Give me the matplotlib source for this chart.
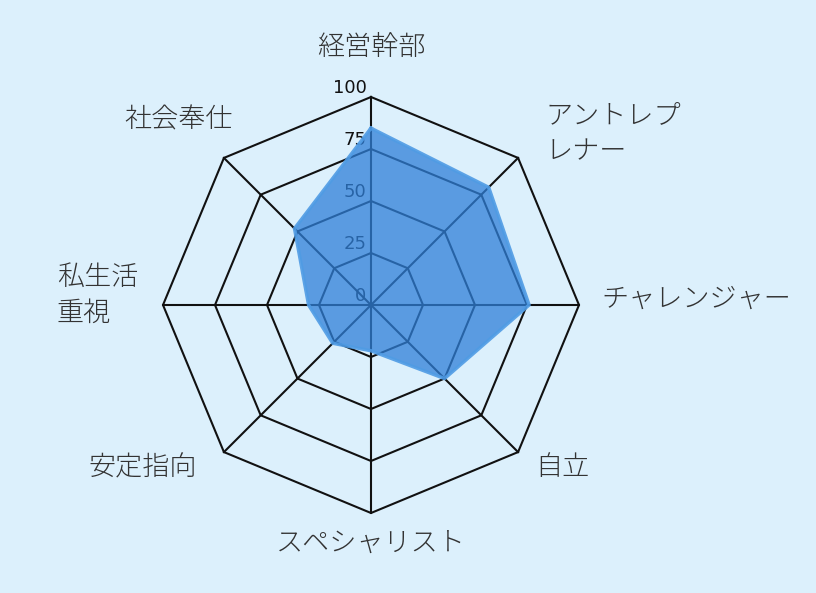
import numpy as np
import matplotlib
matplotlib.use("Agg")
import matplotlib.pyplot as plt

plt.rcParams['font.family'] = ['Noto Sans CJK JP', 'DejaVu Sans']

categories = ['経営幹部', 'アントレプ\nレナー', 'チャレンジャー', '自立',
              'スペシャリスト', '安定指向', '私生活\n重視', '社会奉仕']
values = [85, 80, 76, 50, 22, 26, 30, 52]
ticks = [0, 25, 50, 75, 100]
tick_labels = ['0', '25', '50', '75', '100']

W, H = 816, 593
cx, cy, R = 371, 305, 208
bg = '#dcf0fc'

fig = plt.figure(figsize=(W / 100, H / 100), dpi=100, facecolor=bg)
ax = fig.add_axes([0, 0, 1, 1])
ax.set_facecolor(bg)
ax.set_xlim(-cx / R, (W - cx) / R)
ax.set_ylim(-(H - cy) / R, cy / R)
ax.set_aspect('equal')
ax.axis('off')

n = len(categories)
ang = np.pi / 2 - np.arange(n) * 2 * np.pi / n
ang_c = np.append(ang, ang[0])

# grid rings
for t in ticks[1:]:
    r = t / 100
    ax.plot(r * np.cos(ang_c), r * np.sin(ang_c), color='#111111', lw=1.5, zorder=1)
# spokes
for a in ang:
    ax.plot([0, np.cos(a)], [0, np.sin(a)], color='#111111', lw=1.5, zorder=1)

# tick labels
for t, lab in zip(ticks, tick_labels):
    ax.text(-0.022, t / 100 + 0.045, lab, ha='right', va='center',
            fontsize=13, family='DejaVu Sans', color='#111111', zorder=1)

# data polygon
v = np.array(values + values[:1]) / 100
ax.fill(v * np.cos(ang_c), v * np.sin(ang_c), color='#2f7fd8', alpha=0.75,
        zorder=2, lw=0)
ax.plot(v * np.cos(ang_c), v * np.sin(ang_c), color='#4f9be4', lw=2.5,
        alpha=0.9, zorder=3)

# category labels: (x, y, ha) in data units
label_pos = [(0.0, 1.24, 'center'), (0.837, 0.827, 'left'), (1.106, 0.03, 'left'),
             (0.788, -0.78, 'left'), (0.0, -1.145, 'center'), (-0.837, -0.78, 'right'),
             (-1.51, 0.048, 'left'), (-0.663, 0.89, 'right')]
for lab, (x, y, ha) in zip(categories, label_pos):
    ax.text(x, y, lab, ha=ha, va='center', fontsize=19.5, color='#333333',
            weight='light', linespacing=1.35, multialignment='left')

fig.savefig('out.png', dpi=100, facecolor=bg)
